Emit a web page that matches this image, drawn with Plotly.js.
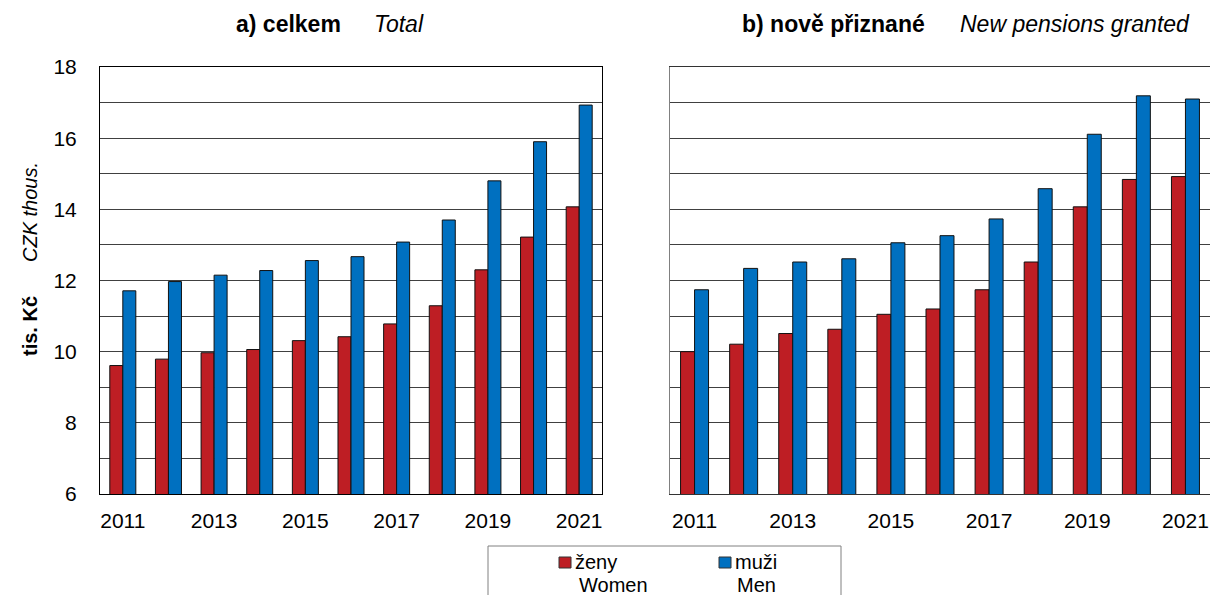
<!DOCTYPE html>
<html>
<head>
<meta charset="utf-8">
<script src="https://cdn.plot.ly/plotly-3.0.1.min.js"></script>
<style>html,body{margin:0;padding:0;background:#fff;}#chart{width:1210px;height:595px;}</style>
</head>
<body>
<div id="chart"></div>
<script>
// ---- data ----
var years = [2011, 2012, 2013, 2014, 2015, 2016, 2017, 2018, 2019, 2020, 2021];
var tickYears = [2011, 2013, 2015, 2017, 2019, 2021];
var yTicks = [6, 8, 10, 12, 14, 16, 18];
// a) total
var totalWomen = [9.61, 9.79, 9.97, 10.06, 10.31, 10.42, 10.78, 11.29, 12.30, 13.22, 14.07];
var totalMen   = [11.71, 11.97, 12.15, 12.28, 12.56, 12.67, 13.08, 13.70, 14.80, 15.90, 16.93];
// b) new pensions granted
var newWomen = [10.00, 10.21, 10.51, 10.63, 11.05, 11.20, 11.74, 12.52, 14.07, 14.84, 14.92];
var newMen   = [11.74, 12.34, 12.52, 12.61, 13.06, 13.26, 13.73, 14.58, 16.11, 17.19, 17.10];
var seriesCz = ["ženy", "muži"];
var seriesEn = ["Women", "Men"];
var panelCz = ["a) celkem", "b) nově přiznané"];
var panelEn = ["Total", "New pensions granted"];
var yTitleCz = "tis. Kč";
var yTitleEn = "CZK thous.";

// ---- styles ----
var W = 1210, H = 595;
var RED = "#BE1E24", BLUE = "#0070C0";
var FONT = "Liberation Sans, Arial, sans-serif";
function px(x){ return x / W; }
function py(y){ return 1 - y / H; }

function bar(x, y, color, xa, ya, name){
  return {type: "bar", x: x, y: y, name: name, xaxis: xa, yaxis: ya,
    marker: {color: color, line: {color: "#111", width: 1}},
    hoverinfo: "x+y", showlegend: false};
}

var traces = [
  bar(years, totalWomen, RED, "x", "y", seriesCz[0]),
  bar(years, totalMen, BLUE, "x", "y", seriesCz[1]),
  bar(years, newWomen, RED, "x2", "y2", seriesCz[0]),
  bar(years, newMen, BLUE, "x2", "y2", seriesCz[1])
];

var yDomain = [py(494), py(67)];
function xAxis(domain, anchor, lc){
  return {domain: domain, anchor: anchor, range: [2010.5, 2021.5],
    tickmode: "array", tickvals: tickYears, ticktext: tickYears.map(String),
    ticks: "", showgrid: false, zeroline: false,
    showline: true, mirror: true, linecolor: lc, linewidth: 1,
    ticklabelstandoff: 8,
    tickfont: {family: FONT, size: 21, color: "#000"}, fixedrange: true};
}
function yAxis(anchor, labels, lc){
  return {domain: yDomain, anchor: anchor, range: [6, 18],
    tickmode: "array", tickvals: yTicks, ticktext: yTicks.map(String),
    showticklabels: labels, ticks: "", zeroline: false,
    showgrid: true, gridcolor: "#404040", gridwidth: 1,
    minor: {dtick: 1, tick0: 6, showgrid: true, gridcolor: "#404040", gridwidth: 1, ticks: ""},
    showline: true, mirror: labels, linecolor: lc, linewidth: 1,
    ticklabelstandoff: 18,
    tickfont: {family: FONT, size: 21, color: "#000"}, fixedrange: true};
}

function A(text, x, y, xanchor, size, angle){
  var a = {text: text, x: px(x), y: py(y), xanchor: xanchor, yanchor: "middle",
    xref: "paper", yref: "paper", showarrow: false,
    font: {family: FONT, size: size, color: "#000"}};
  if (angle) a.textangle = angle;
  return a;
}

var ann = [
  A("<b>" + panelCz[0] + "</b>", 288, 24, "center", 23),
  A("<i>" + panelEn[0] + "</i>", 372, 24, "left", 23),
  A("<b>" + panelCz[1] + "</b>", 834, 24, "center", 23),
  A("<i>" + panelEn[1] + "</i>", 958, 24, "left", 23),
  A("<b>" + yTitleCz + "</b>", 30, 326, "center", 20, -90),
  A("<i>" + yTitleEn + "</i>", 30, 212, "center", 20, -90),
  A(seriesCz[0], 573, 562, "left", 20),
  A(seriesEn[0], 577, 585, "left", 20),
  A(seriesCz[1], 733, 562, "left", 20),
  A(seriesEn[1], 735, 585, "left", 20)
];

var shapes = [
  {type: "rect", xref: "paper", yref: "paper", x0: px(488), x1: px(841), y0: py(620), y1: py(546),
   line: {color: "#808080", width: 1}, fillcolor: "rgba(0,0,0,0)"},
  {type: "rect", xref: "paper", yref: "paper", x0: px(559), x1: px(571), y0: py(568), y1: py(557),
   line: {color: "#333", width: 1}, fillcolor: RED},
  {type: "rect", xref: "paper", yref: "paper", x0: px(719), x1: px(731), y0: py(568), y1: py(557),
   line: {color: "#333", width: 1}, fillcolor: BLUE}
];

var layout = {
  width: W, height: H,
  margin: {l: 0, r: 0, t: 0, b: 0, pad: 0},
  paper_bgcolor: "#fff", plot_bgcolor: "#fff",
  barmode: "group", bargap: 0.43, bargroupgap: 0,
  showlegend: false,
  font: {family: FONT, size: 20, color: "#000"},
  xaxis: xAxis([px(100), px(602)], "y", "#000"),
  yaxis: yAxis("x", true, "#000"),
  xaxis2: xAxis([px(670), 1], "y2", "#333"),
  yaxis2: yAxis("x2", false, "#808080"),
  annotations: ann,
  shapes: shapes
};

Plotly.newPlot("chart", traces, layout, {displayModeBar: false, staticPlot: true});
</script>
</body>
</html>
